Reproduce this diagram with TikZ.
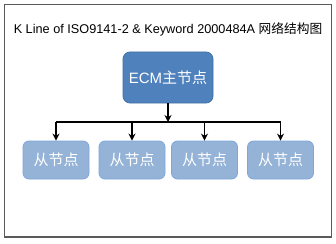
\documentclass[tikz,border=0pt]{standalone}
\usepackage{fontspec}
\setmainfont{Liberation Sans}
\newfontfamily\cjk{Noto Sans CJK SC}
\usetikzlibrary{arrows.meta}
\definecolor{framecol}{HTML}{5A5A5A}
\definecolor{mainfill}{HTML}{4F81BD}
\definecolor{maindraw}{HTML}{4472A8}
\definecolor{subfill}{HTML}{95B3D7}
\definecolor{subdraw}{HTML}{7FA7DC}
\tikzset{
  mainbox/.style={draw=maindraw, line width=0.8pt, fill=mainfill, rounded corners=7pt,
    minimum width=90pt, minimum height=51pt, inner sep=0pt, text=white,
    font=\fontsize{15}{18}\selectfont},
  subbox/.style={draw=subdraw, line width=0.8pt, fill=subfill, rounded corners=6pt,
    minimum width=66pt, minimum height=38pt, inner sep=0pt, text=white,
    font=\fontsize{15}{18}\selectfont},
  conn/.style={draw=black, line width=1.3pt, line join=round},
  arr/.style={conn, -{Stealth[length=7pt,width=7pt]}},
}
\begin{document}
\begin{tikzpicture}[x=1pt,y=-1pt]
\useasboundingbox (0,0) rectangle (336,243);
\fill[white] (0,0) rectangle (336,243);
\draw[framecol, line width=1.3pt] (4.5,4.5) rectangle (331.5,237);
\node[font=\fontsize{12.7}{15}\selectfont] (title) at (168,29) {K Line of ISO9141-2 \& Keyword 2000484A {\cjk 网络结构图}};
\node[mainbox] (ecm) at (168,77.5) {ECM{\cjk 主节点}};
\node[subbox] (c1) at (56,160) {\cjk 从节点};
\node[subbox] (c2) at (132,160) {\cjk 从节点};
\node[subbox] (c3) at (204.5,160) {\cjk 从节点};
\node[subbox] (c4) at (280.5,160) {\cjk 从节点};
\coordinate (j) at (168,122);
\draw[arr] (ecm.south) -- (j);
\draw[conn] (c1.north |- j) -- (c4.north |- j);
\draw[arr] (c1.north |- j) -- (c1.north);
\draw[arr] (c2.north |- j) -- (c2.north);
\draw[arr] (c3.north |- j) -- (c3.north);
\draw[arr] (c4.north |- j) -- (c4.north);
\end{tikzpicture}
\end{document}
